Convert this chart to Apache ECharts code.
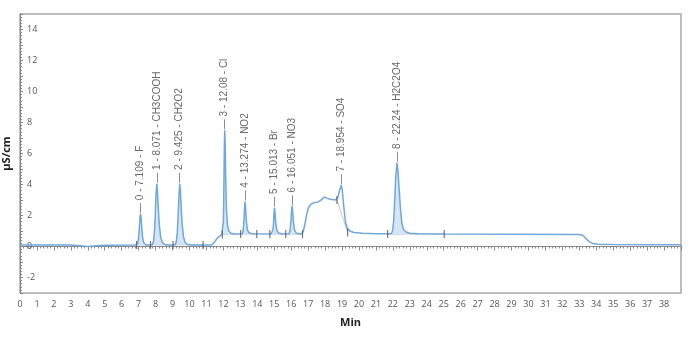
<!DOCTYPE html>
<html><head><meta charset="utf-8">
<script src="https://cdn.jsdelivr.net/npm/echarts@6/dist/echarts.min.js"></script>
<style>html,body{margin:0;padding:0;background:#fff}#c{width:692px;height:340px}</style>
</head><body><div id="c"></div>
<script>
// Chromatogram trace [time (min), conductivity (µS/cm)]
const trace = [
 [0,0.1],[3.0,0.1],[3.5,0.05],[4.0,0.0],[4.5,0.05],[5.0,0.08],[6.8,0.1],
 [6.9,0.1],[6.95,0.2],[7.0,0.6],[7.04,1.2],[7.08,1.9],[7.109,2.1],[7.14,1.9],[7.18,1.3],[7.23,0.6],[7.3,0.25],[7.4,0.12],[7.55,0.1],
 [7.8,0.12],[7.87,0.3],[7.93,0.9],[7.98,2.0],[8.02,3.3],[8.071,4.05],[8.11,3.6],[8.16,2.5],[8.22,1.4],[8.3,0.6],[8.4,0.25],[8.55,0.13],[8.75,0.1],
 [9.15,0.12],[9.22,0.3],[9.28,0.9],[9.33,2.0],[9.38,3.3],[9.425,4.05],[9.465,3.6],[9.51,2.5],[9.57,1.4],[9.65,0.6],[9.75,0.25],[9.9,0.13],[10.1,0.1],
 [11.3,0.1],[11.45,0.25],[11.6,0.48],[11.75,0.66],[11.9,0.77],
 [11.97,0.85],[12.0,1.6],[12.03,3.8],[12.055,6.3],[12.08,7.5],[12.105,6.6],[12.14,4.3],[12.18,2.4],[12.24,1.4],[12.32,1.0],[12.45,0.85],[12.7,0.8],
 [13.12,0.82],[13.17,1.05],[13.21,1.6],[13.245,2.4],[13.274,2.9],[13.305,2.5],[13.35,1.7],[13.41,1.1],[13.5,0.9],[13.65,0.83],[14.8,0.8],
 [14.86,0.82],[14.92,1.05],[14.96,1.5],[14.99,2.2],[15.013,2.5],[15.045,2.2],[15.09,1.5],[15.15,1.05],[15.25,0.88],[15.45,0.81],
 [15.88,0.82],[15.94,1.1],[15.99,1.7],[16.025,2.35],[16.051,2.6],[16.085,2.3],[16.13,1.6],[16.2,1.05],[16.3,0.87],[16.5,0.81],
 [16.62,0.82],[16.72,1.0],[16.82,1.5],[16.92,2.1],[17.02,2.5],[17.15,2.72],[17.35,2.82],[17.6,2.88],[17.8,3.02],[17.95,3.2],[18.1,3.12],[18.3,3.05],[18.6,3.0],
 [18.75,3.15],[18.85,3.6],[18.954,3.95],[19.02,3.6],[19.1,2.6],[19.2,1.6],[19.3,1.2],[19.45,1.0],[19.7,0.9],[20.2,0.85],[21.0,0.82],[21.9,0.82],
 [21.98,1.0],[22.05,1.7],[22.11,3.0],[22.17,4.5],[22.24,5.4],[22.3,4.9],[22.37,3.7],[22.45,2.4],[22.53,1.5],[22.63,1.1],[22.78,0.93],[23.0,0.86],[23.5,0.82],[25,0.8],
 [33.0,0.78],[33.2,0.72],[33.4,0.5],[33.6,0.3],[33.8,0.2],[34.1,0.15],[35,0.13],[39,0.12]
];
// Peaks: retention time, height, name
const peakTimes   = [7.109, 8.071, 9.425, 12.08, 13.274, 15.013, 16.051, 18.954, 22.24];
const peakHeights = [2.1, 4.05, 4.05, 7.5, 2.9, 2.5, 2.6, 3.95, 5.4];
const peakNames   = ['F','CH3COOH','CH2O2','Cl','NO2','Br','NO3','SO4','H2C2O4'];
const peakLabels  = ['7.109','8.071','9.425','12.08','13.274','15.013','16.051','18.954','22.24'];
// Peak integration ranges and baseline levels
const peakStart = [6.88, 7.7, 9.03, 11.94, 13.02, 14.74, 15.68, 18.7, 21.69];
const peakEnd   = [7.7, 9.03, 10.8, 13.02, 13.97, 15.68, 16.67, 19.33, 25.03];
const baseStart = [0.1, 0.1, 0.1, 0.78, 0.8, 0.8, 0.8, 3.0, 0.8];
const baseEnd   = [0.1, 0.1, 0.1, 0.8, 0.8, 0.8, 0.8, 0.9, 0.8];
// y-axis tick labels
const yTickLabels = [-2, 0, 2, 4, 6, 8, 10, 12, 14];

const series = [];
peakStart.forEach((s, i) => {
  series.push({type:'line', data:[[s, baseStart[i]],[peakEnd[i], baseEnd[i]]], symbol:'none', silent:true,
    lineStyle:{color:'#c8c8c8', width:1}, z:1});
});
peakStart.forEach((s, i) => {
  if (i === 7) return;
  const pts = trace.filter(p => p[0] >= s && p[0] <= peakEnd[i]);
  series.push({type:'line', data:pts, symbol:'none', silent:true,
    lineStyle:{width:0}, areaStyle:{color:'#cfe2f3', opacity:0.9, origin: baseStart[i]}, z:2});
});
series.push({type:'line', data:trace, symbol:'none', lineStyle:{color:'#6fa8dc', width:1.5}, z:3});
const markers = [];
peakStart.forEach((s, i) => { markers.push([s, baseStart[i]]); });
[2, 4, 6, 7, 8].forEach(i => markers.push([peakEnd[i], baseEnd[i]]));
series.push({type:'scatter', data:markers, symbol:'rect', symbolSize:[1.2,8], itemStyle:{color:'#555'}, z:4, silent:true});
series.push({type:'scatter', data:peakTimes.map((t,i)=>[t, peakHeights[i]]), symbolSize:0, z:5,
  label:{show:true, rotate:90, position:'top', distance:1, align:'left', verticalAlign:'middle',
    fontSize:10, color:'#444', fontFamily:'Liberation Sans, Arial, sans-serif',
    formatter: p => '— ' + p.dataIndex + ' - ' + peakLabels[p.dataIndex] + ' - ' + peakNames[p.dataIndex]}});

const chart = echarts.init(document.getElementById('c'), null, {renderer:'canvas'});
chart.setOption({
  animation:false,
  grid:{left:20, right:11, top:14, bottom:47, containLabel:false, outerBoundsMode:'none',
    show:true, borderColor:'#a8a8a8', borderWidth:1.5},
  xAxis:{type:'value', min:0, max:39, interval:1, name:'Min', nameLocation:'middle', nameGap:24,
    nameTextStyle:{fontWeight:'bold', fontSize:11, color:'#222', fontFamily:'Open Sans, sans-serif'},
    axisLine:{lineStyle:{color:'#888'}}, axisTick:{length:4, lineStyle:{color:'#888'}},
    minorTick:{show:true, splitNumber:5, length:2, lineStyle:{color:'#888'}},
    splitLine:{show:false},
    axisLabel:{fontSize:9, color:'#555', margin:7, showMaxLabel:false, fontFamily:'Open Sans, sans-serif'}},
  yAxis:{type:'value', min:-3, max:15, interval:1, name:'µS/cm', nameLocation:'middle', nameGap:-4, nameRotate:90,
    nameTextStyle:{fontWeight:'bold', fontSize:11, color:'#222', fontFamily:'Open Sans, sans-serif'},
    axisLine:{show:true, lineStyle:{color:'#888'}}, axisTick:{inside:true, length:3, lineStyle:{color:'#888'}},
    minorTick:{show:true, splitNumber:5, length:2, lineStyle:{color:'#888'}},
    splitLine:{show:false},
    axisLabel:{inside:true, fontSize:9, color:'#555', margin:7, fontFamily:'Open Sans, sans-serif',
      formatter: v => yTickLabels.includes(v) ? String(v) : ''}},
  series: series
});
</script></body></html>
